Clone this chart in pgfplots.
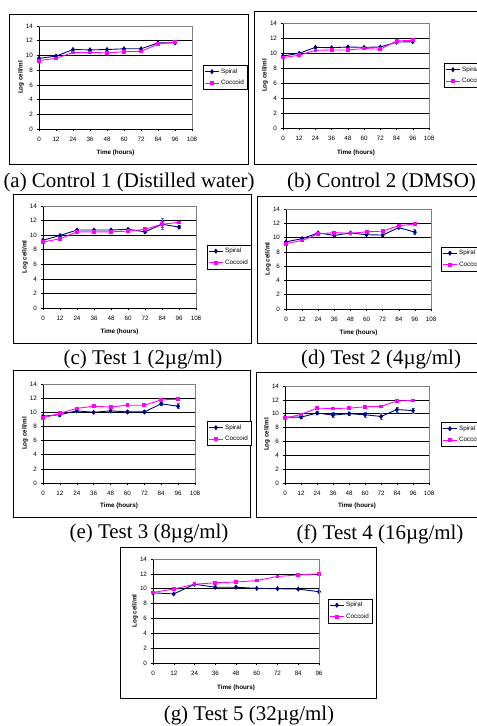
\documentclass[border=0pt]{standalone}
\usepackage{fontspec}
\setmainfont{Liberation Serif}
\newfontfamily\arial{Liberation Sans}
\usepackage{pgfplots}
\pgfplotsset{compat=1.18}
\definecolor{navy}{RGB}{0,0,128}
\definecolor{mag}{RGB}{255,0,255}
\definecolor{errblue}{RGB}{60,120,230}
\definecolor{bordergray}{RGB}{128,128,128}
\pgfplotsset{
 panel/.style={
  scale only axis, anchor=south west, clip=false,
  xmin=0, xmax=108, ymin=0, ymax=14,
  xtick={0,12,...,108}, ytick={0,2,...,14},
  axis lines=left, axis line style={-, black, line width=0.7bp},
  tick align=outside, major tick length=2.5bp,
  tick style={black, line width=0.5bp},
  ymajorgrids, grid style={black, line width=0.6bp},
  ticklabel style={font=\arial\fontsize{6.3}{7}\selectfont},
  xticklabel style={yshift=-2bp},
  /pgf/number format/assume math mode=true,
  xlabel={Time (hours)}, ylabel={Log cell/ml},
  label style={font=\arial\bfseries\fontsize{6.3}{7}\selectfont},
  xlabel style={at={(axis description cs:0.5,-0.235)}, anchor=center},
  after end axis/.code={\draw[bordergray, line width=0.8bp] (rel axis cs:0,1) -- (rel axis cs:1,1) -- (rel axis cs:1,0);},
  legend style={anchor=west, draw=black, line width=0.5bp, fill=white,
    font=\arial\fontsize{6.3}{7}\selectfont, inner sep=1.2bp,
    nodes={inner sep=1.8bp, anchor=west}, row sep=2bp},
  legend cell align=left,
  legend image code/.code={\draw[mark repeat=2,mark phase=2] plot coordinates {(0bp,0bp) (7bp,0bp) (14bp,0bp)};},
 },
 spiral/.style={color=navy, line width=0.9bp, mark=diamond*, mark size=1.9bp, mark options={solid, fill=navy}},
 coccoid/.style={color=mag, line width=0.9bp, mark=square*, mark size=1.4bp, mark options={solid, fill=mag}},
 sperr/.style={error bars/.cd, y dir=both, y explicit, error bar style={color=errblue, line width=0.6bp}, error mark options={rotate=90, mark size=1.5bp, color=errblue, line width=0.6bp}},
 coerr/.style={error bars/.cd, y dir=both, y explicit, error bar style={color=mag, line width=0.6bp}, error mark options={rotate=90, mark size=1.5bp, color=mag, line width=0.6bp}},
}
\begin{document}
\begin{tikzpicture}[x=1bp,y=1bp]
\useasboundingbox (0,0) rectangle (477,726);
\clip (0,0) rectangle (477,726);
% panel frames
\draw[line width=0.9bp] (9,562) rectangle (248,712);
\draw[line width=0.9bp] (254,562) rectangle (520,715);
\draw[line width=0.9bp] (13,383) rectangle (251,532);
\draw[line width=0.9bp] (257,383) rectangle (520,530);
\draw[line width=0.9bp] (13,209) rectangle (250,356);
\draw[line width=0.9bp] (256,209) rectangle (520,354);
\draw[line width=0.9bp] (120,28) rectangle (376,179);

% (a)
\begin{axis}[panel, at={(39bp,597bp)}, width=153bp, height=103bp,
  ylabel style={at={(axis description cs:-0.118,0.5)}, anchor=center},
  legend style={at={(1.072,0.5)}}]
\addplot[spiral] coordinates {(0,9.6)(12,9.9)(24,10.8)(36,10.75)(48,10.8)(60,10.9)(72,10.9)(84,11.7)(96,11.7)};
\addplot[coccoid] coordinates {(0,9.3)(12,9.6)(24,10.4)(36,10.4)(48,10.35)(60,10.5)(72,10.55)(84,11.55)(96,11.8)};
\legend{Spiral,Coccoid}
\end{axis}

% (b)
\begin{axis}[panel, at={(283bp,598bp)}, width=146bp, height=105bp,
  ylabel style={at={(axis description cs:-0.123,0.5)}, anchor=center},
  legend style={at={(1.103,0.5)}}]
\addplot[spiral] coordinates {(0,9.6)(12,9.95)(24,10.75)(36,10.7)(48,10.8)(60,10.75)(72,10.8)(84,11.45)(96,11.5)};
\addplot[coccoid] coordinates {(0,9.4)(12,9.7)(24,10.35)(36,10.4)(48,10.4)(60,10.6)(72,10.5)(84,11.6)(96,11.7)};
\legend{Spiral,Coccoid}
\end{axis}

% (c)
\begin{axis}[panel, at={(43bp,418bp)}, width=153bp, height=102bp,
  ylabel style={at={(axis description cs:-0.118,0.5)}, anchor=center},
  legend style={at={(1.072,0.5)}}]
\addplot[spiral, sperr] coordinates {(0,9.3)+-(0,0.1) (12,9.95)+-(0,0.1) (24,10.7)+-(0,0.1) (36,10.7)+-(0,0.1) (48,10.7)+-(0,0.15) (60,10.8)+-(0,0.1) (72,10.45)+-(0,0.1) (84,11.5)+-(0,0.75) (96,11.1)+-(0,0.2)};
\addplot[coccoid, coerr] coordinates {(0,9.05)+-(0,0.1) (12,9.5)+-(0,0.1) (24,10.45)+-(0,0.1) (36,10.45)+-(0,0.1) (48,10.45)+-(0,0.1) (60,10.55)+-(0,0.1) (72,10.8)+-(0,0.1) (84,11.5)+-(0,0.4) (96,11.75)+-(0,0.1)};
\legend{Spiral,Coccoid}
\end{axis}

% (d)
\begin{axis}[panel, at={(286bp,417bp)}, width=145bp, height=100bp,
  ylabel style={at={(axis description cs:-0.124,0.5)}, anchor=center},
  legend style={at={(1.069,0.5)}}]
\addplot[spiral, sperr] coordinates {(0,9.4)+-(0,0.1) (12,9.85)+-(0,0.1) (24,10.65)+-(0,0.1) (36,10.3)+-(0,0.15) (48,10.65)+-(0,0.1) (60,10.4)+-(0,0.15) (72,10.35)+-(0,0.15) (84,11.4)+-(0,0.15) (96,10.75)+-(0,0.35)};
\addplot[coccoid] coordinates {(0,9.15)(12,9.6)(24,10.5)(36,10.7)(48,10.6)(60,10.8)(72,10.9)(84,11.65)(96,11.9)};
\legend{Spiral,Coccoid}
\end{axis}

% (e)
\begin{axis}[panel, at={(43bp,243bp)}, width=152bp, height=99bp,
  ylabel style={at={(axis description cs:-0.118,0.5)}, anchor=center},
  legend style={at={(1.079,0.5)}}]
\addplot[spiral, sperr] coordinates {(0,9.45)+-(0,0.1) (12,9.65)+-(0,0.15) (24,10.2)+-(0,0.2) (36,10.0)+-(0,0.2) (48,10.2)+-(0,0.15) (60,10.05)+-(0,0.25) (72,10.05)+-(0,0.2) (84,11.2)+-(0,0.25) (96,10.85)+-(0,0.35)};
\addplot[coccoid] coordinates {(0,9.2)(12,9.85)(24,10.55)(36,10.85)(48,10.75)(60,11.0)(72,11.0)(84,11.75)(96,11.85)};
\legend{Spiral,Coccoid}
\end{axis}

% (f)
\begin{axis}[panel, at={(285bp,243bp)}, width=144bp, height=97bp,
  ylabel style={at={(axis description cs:-0.125,0.5)}, anchor=center},
  legend style={at={(1.083,0.5)}}]
\addplot[spiral, sperr] coordinates {(0,9.5)+-(0,0.1) (12,9.5)+-(0,0.15) (24,10.1)+-(0,0.2) (36,9.8)+-(0,0.35) (48,10.0)+-(0,0.25) (60,9.85)+-(0,0.35) (72,9.6)+-(0,0.45) (84,10.6)+-(0,0.35) (96,10.45)+-(0,0.35)};
\addplot[coccoid] coordinates {(0,9.35)(12,9.9)(24,10.8)(36,10.75)(48,10.8)(60,11.0)(72,11.05)(84,11.85)(96,11.9)};
\legend{Spiral,Coccoid}
\end{axis}

% (g)
\begin{axis}[panel, at={(153bp,63bp)}, width=166bp, height=104bp, xmax=96, xtick={0,12,...,96},
  ylabel style={at={(axis description cs:-0.108,0.5)}, anchor=center},
  legend style={at={(1.054,0.5)}}]
\addplot[spiral] coordinates {(0,9.45)(12,9.3)(24,10.6)(36,10.2)(48,10.2)(60,10.05)(72,10.0)(84,9.95)(96,9.6)};
\addplot[coccoid] coordinates {(0,9.5)(12,9.95)(24,10.6)(36,10.8)(48,10.9)(60,11.1)(72,11.65)(84,11.85)(96,12.0)};
\legend{Spiral,Coccoid}
\end{axis}

% captions
\begin{scope}[every node/.style={font=\fontsize{21}{24}\selectfont, inner sep=0pt}]
\node at (129,544) {(a) Control 1 (Distilled water)};
\node at (381.5,544) {(b) Control 2 (DMSO)};
\node at (143,366) {(c) Test 1 (2µg/ml)};
\node at (381,366) {(d) Test 2 (4µg/ml)};
\node at (149,192) {(e) Test 3 (8µg/ml)};
\node at (380,192) {(f) Test 4 (16µg/ml)};
\node at (249,11) {(g) Test 5 (32µg/ml)};
\end{scope}
\end{tikzpicture}
\end{document}
